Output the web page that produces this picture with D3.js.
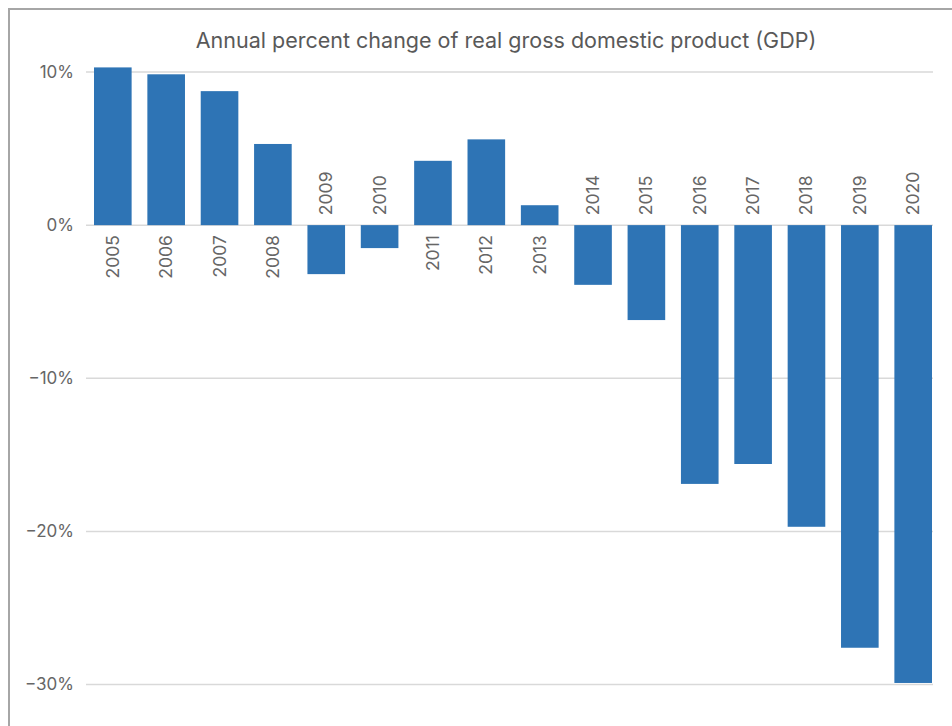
<!DOCTYPE html>
<html>
<head>
<meta charset="utf-8">
<script src="https://cdn.jsdelivr.net/npm/d3@7"></script>
<style>
  body { margin: 0; background: #fff; }
  text { font-family: Inter, "Noto Sans", sans-serif; }
</style>
</head>
<body>
<div id="chart"></div>
<script>
// data
const years = ["2005", "2006", "2007", "2008", "2009", "2010", "2011", "2012",
  "2013", "2014", "2015", "2016", "2017", "2018", "2019", "2020"]
const gdpChange = [10.3, 9.85, 8.75, 5.3, -3.2, -1.5, 4.2, 5.6,
  1.3, -3.9, -6.2, -16.9, -15.6, -19.7, -27.6, -29.9]
const yTicks = [10, 0, -10, -20, -30]
const title = "Annual percent change of real gross domestic product (GDP)"

const dataset = years.map((y, i) => ({year: y, value: gdpChange[i]}))

// dimensions
const dimensions = {
  width: 952,
  height: 726,
  margin: {top: 72, right: 12, bottom: 42, left: 86}
}
dimensions.boundedWidth = dimensions.width - dimensions.margin.left - dimensions.margin.right
dimensions.boundedHeight = dimensions.height - dimensions.margin.top - dimensions.margin.bottom

const wrapper = d3.select("#chart")
  .append("svg")
  .attr("width", dimensions.width)
  .attr("height", dimensions.height)

// frame
wrapper.append("rect")
  .attr("x", 9).attr("y", 9)
  .attr("width", 1000).attr("height", 800)
  .attr("fill", "none")
  .attr("stroke", "#a6a6a6")
  .attr("stroke-width", 2)

const bounds = wrapper.append("g")
  .attr("transform", `translate(${dimensions.margin.left},${dimensions.margin.top})`)

// scales
const xScale = d3.scaleBand()
  .domain(years)
  .range([0, 854])
  .paddingInner(0.295)
  .paddingOuter(0.15)

const yScale = d3.scaleLinear()
  .domain([10, -30])
  .range([0, 612.5])

// gridlines
bounds.append("g")
  .selectAll("line")
  .data(yTicks)
  .join("line")
  .attr("x1", 0)
  .attr("x2", 847)
  .attr("y1", d => yScale(d))
  .attr("y2", d => yScale(d))
  .attr("stroke", "#d9d9d9")
  .attr("stroke-width", 1.5)

// y axis labels
const yAxis = bounds.append("g")
  .call(d3.axisLeft(yScale).tickValues(yTicks).tickSize(0).tickPadding(12)
    .tickFormat(d => (d < 0 ? "\u2212" + Math.abs(d) : d) + "%"))
yAxis.select(".domain").remove()
yAxis.selectAll("text")
  .attr("fill", "#666")
  .style("font-size", "17px")
  .style("font-family", "Inter, 'Noto Sans', sans-serif")

// bars
bounds.selectAll("rect.bar")
  .data(dataset)
  .join("rect")
  .attr("class", "bar")
  .attr("x", d => xScale(d.year))
  .attr("width", xScale.bandwidth())
  .attr("y", d => yScale(Math.max(0, d.value)))
  .attr("height", d => Math.abs(yScale(d.value) - yScale(0)))
  .attr("fill", "#2e74b5")

// year labels
bounds.selectAll("text.year")
  .data(dataset)
  .join("text")
  .attr("class", "year")
  .attr("transform", d => {
    const x = xScale(d.year) + xScale.bandwidth() / 2
    const y = d.value >= 0 ? yScale(0) + 10 : yScale(0) - 10
    return `translate(${x + 6},${y}) rotate(-90)`
  })
  .attr("text-anchor", d => d.value >= 0 ? "end" : "start")
  .attr("fill", "#666")
  .style("font-size", "17.5px")
  .text(d => d.year)

// title
wrapper.append("text")
  .attr("x", 506)
  .attr("y", 48)
  .attr("text-anchor", "middle")
  .attr("fill", "#595959")
  .style("font-size", "21.5px")
  .text(title)
</script>
</body>
</html>
